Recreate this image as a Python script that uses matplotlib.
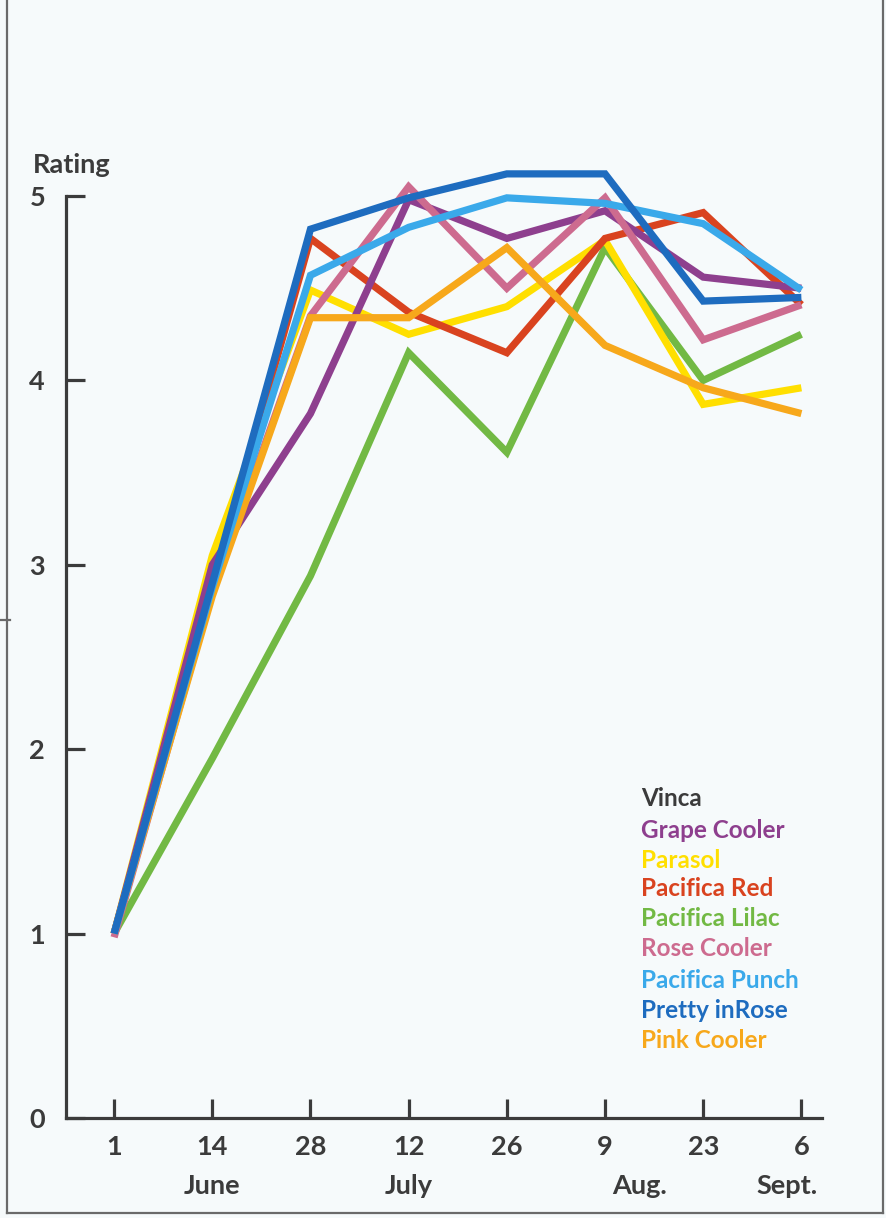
import matplotlib.pyplot as plt
from matplotlib.lines import Line2D

# dates along the x axis
days = ['1', '14', '28', '12', '26', '9', '23', '6']
months = ['June', 'July', 'Aug.', 'Sept.']
month_pos = [1, 3, 5.35, 6.85]

grape_cooler = [1.0, 3.0, 3.82, 4.98, 4.77, 4.92, 4.56, 4.50]
parasol = [1.0, 3.05, 4.49, 4.25, 4.40, 4.76, 3.87, 3.96]
pacifica_red = [1.0, 2.87, 4.77, 4.37, 4.15, 4.77, 4.91, 4.41]
pacifica_lilac = [1.0, 1.95, 2.94, 4.15, 3.61, 4.72, 4.00, 4.25]
rose_cooler = [0.98, 2.85, 4.35, 5.05, 4.50, 4.99, 4.22, 4.41]
pacifica_punch = [1.0, 2.88, 4.57, 4.83, 4.99, 4.96, 4.85, 4.49]
pretty_in_rose = [1.0, 2.90, 4.82, 4.99, 5.12, 5.12, 4.43, 4.45]
pink_cooler = [1.0, 2.83, 4.34, 4.34, 4.72, 4.19, 3.96, 3.82]

names = ['Grape Cooler', 'Parasol', 'Pacifica Red', 'Pacifica Lilac',
         'Rose Cooler', 'Pacifica Punch', 'Pretty inRose', 'Pink Cooler']
series = [grape_cooler, parasol, pacifica_red, pacifica_lilac,
          rose_cooler, pacifica_punch, pretty_in_rose, pink_cooler]
cols = ['#8e3f8e', '#ffdf00', '#d9431f', '#72b944',
        '#cd6b8f', '#3aa9ea', '#1e6cbf', '#f7a81b']

ink = '#3b3b3b'
bg = '#f6fafb'
plt.rcParams['font.family'] = ['Lato', 'DejaVu Sans']

fig = plt.figure(figsize=(8.87, 12.18), dpi=100, facecolor=bg)
W, H = 887, 1218
y0, y5 = 1118, 196
ytop = y0 - 5.3 * (y0 - y5) / 5
ax = fig.add_axes([66 / W, (H - y0) / H, (822 - 66) / W, (y0 - ytop) / H])
ax.set_facecolor('none')

x = list(range(len(days)))
draw_order = [3, 1, 2, 0, 4, 7, 5, 6]
for i in draw_order:
    ax.plot(x, series[i], color=cols[i], lw=5.2, solid_joinstyle='miter',
            solid_capstyle='butt', zorder=3 + draw_order.index(i), clip_on=False)

ax.set_xlim(-0.49, 7.21)
ax.set_ylim(0, 5.3)
for s in ['top', 'right']:
    ax.spines[s].set_visible(False)
for s in ['left', 'bottom']:
    ax.spines[s].set_linewidth(2.3)
    ax.spines[s].set_color(ink)
ax.spines['left'].set_bounds(0, 5)

ax.set_xticks(x)
ax.set_xticklabels(days)
ax.set_yticks(range(6))
ax.set_yticklabels([str(v) for v in range(6)])
ax.tick_params(axis='both', direction='in', length=14, width=2.3, color=ink,
               labelcolor=ink, labelsize=19.5)
ax.tick_params(axis='y', pad=15)
ax.tick_params(axis='x', pad=12)
for lab in ax.get_xticklabels() + ax.get_yticklabels():
    lab.set_fontweight('bold')

for m, p in zip(months, month_pos):
    ax.text(p, -0.37, m, ha='center', va='center', fontsize=19.5,
            fontweight='bold', color=ink, clip_on=False)

fig.text(33 / W, 1 - 165 / H, 'Rating', ha='left', va='center', fontsize=19.5,
         fontweight='bold', color=ink)

# legend as coloured text
fig.text(641 / W, 1 - 799 / H, 'Vinca', ha='left', va='center', fontsize=17.5,
         fontweight='bold', color=ink)
ly = [831, 860, 888, 918, 949, 981, 1011, 1041]
for n, c, yy in zip(names, cols, ly):
    fig.text(641 / W, 1 - yy / H, n, ha='left', va='center', fontsize=17.5,
             fontweight='bold', color=c)

# page frame
fc = '#6a6a6a'
fig.add_artist(Line2D([7 / W, 7 / W], [1, 1 - 1213 / H], color=fc, lw=1.6))
fig.add_artist(Line2D([7 / W, 883 / W], [1 - 1213 / H, 1 - 1213 / H], color=fc, lw=1.6))
fig.add_artist(Line2D([883 / W, 883 / W], [1, 1 - 1213 / H], color=fc, lw=1.6))
fig.add_artist(Line2D([0, 10 / W], [1 - 620 / H, 1 - 620 / H], color=fc, lw=1.6))

fig.savefig('out.png', dpi=100, facecolor=bg)
